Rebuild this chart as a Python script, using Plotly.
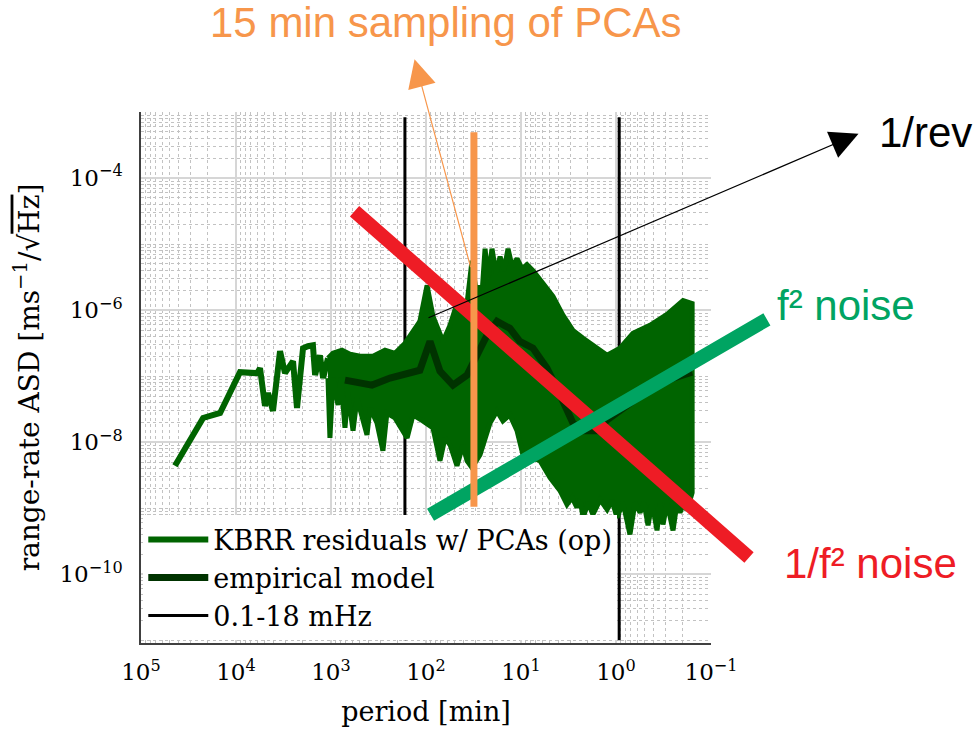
import numpy as np
import plotly.graph_objects as go

# ---------------- data (period in minutes, ASD in m s^-1 / sqrt(Hz)) ----------------
# KBRR residuals w/ PCAs (op): sparse low-frequency part
kbrr_period = [43900, 22200, 14700, 9080, 6010, 5590, 4950, 4600, 4080, 3440, 3050,
               2510, 2280, 2120, 1970, 1750, 1550, 1470, 1310, 1210, 1076]
kbrr_asd = [4.41e-9, 2.33e-8, 2.77e-8, 1.15e-7, 1.11e-7, 1.32e-7, 3.54e-8, 5.56e-8, 2.97e-8,
            2.39e-7, 1.11e-7, 1.69e-7, 3.30e-8, 1.19e-7, 2.65e-7, 2.84e-7, 2.94e-7, 1.04e-7,
            2.07e-7, 9.35e-8, 1.87e-7]

# dense high-frequency part: upper envelope (long -> short period)
upper_period = [1076, 953, 766, 631, 495, 361, 270, 212, 166, 147, 116, 97.5, 84.4, 66.2,
                55.8, 47.2, 37.0, 32.8, 29.0, 27.0, 25.7, 23.9, 22.2, 20.2, 18.3, 16.6, 15.1,
                13.7, 12.4, 11.0, 9.75, 8.65, 7.48, 5.86, 4.61, 3.61, 2.84, 2.22, 1.75, 1.24,
                0.908, 0.663, 0.439, 0.290, 0.197, 0.158]
upper_asd = [1.87e-7, 2.22e-7, 2.47e-7, 2.15e-7, 2.00e-7, 2.00e-7, 2.47e-7, 2.22e-7, 3.15e-7,
             4.16e-7, 6.76e-7, 2.36e-6, 8.04e-7, 3.37e-7, 5.88e-7, 1.26e-6, 1.26e-6, 5.61e-6,
             1.50e-6, 2.36e-6, 1.79e-6, 8.51e-6, 3.01e-6, 8.51e-6, 3.57e-6, 6.45e-6, 3.97e-6,
             8.51e-6, 4.56e-6, 6.01e-6, 4.25e-6, 4.89e-6, 3.97e-6, 2.52e-6, 1.61e-6, 8.32e-7,
             4.94e-7, 3.74e-7, 2.94e-7, 2.07e-7, 2.65e-7, 4.46e-7, 5.88e-7, 8.61e-7, 1.40e-6,
             1.26e-6]
# dense high-frequency part: lower envelope with downward spikes (long -> short period)
lower_period = [1076, 1026, 953, 844, 785, 713, 663, 586, 532, 495, 418, 388, 328, 284, 258,
                212, 188, 158, 137, 108, 84.4, 71.3, 63.1, 55.8, 47.2, 40.8, 37.0, 32.8, 27.0,
                21.2, 17.9, 15.5, 13.1, 11.0, 9.53, 7.48, 6.31, 4.95, 3.88, 3.28, 2.90, 2.58,
                2.39, 2.22, 1.97, 1.75, 1.47, 1.24, 1.10, 0.976, 0.844, 0.713, 0.631, 0.558,
                0.507, 0.460, 0.418, 0.370, 0.344, 0.320, 0.290, 0.251, 0.228, 0.212, 0.192,
                0.179, 0.158]
lower_asd = [9.35e-8, 1.16e-8, 9.35e-8, 3.66e-8, 9.35e-8, 1.65e-8, 5.56e-8, 1.49e-8, 4.67e-8,
             3.30e-8, 1.29e-8, 3.30e-8, 1.96e-8, 7.42e-9, 2.77e-8, 2.33e-8, 1.83e-8, 1.16e-8,
             2.59e-8, 2.10e-8, 1.65e-8, 5.25e-9, 1.16e-8, 9.14e-9, 4.41e-9, 9.14e-9, 5.25e-9,
             4.11e-9, 6.46e-9, 1.96e-8, 2.97e-8, 2.10e-8, 2.59e-8, 1.49e-8, 6.46e-9, 5.82e-9,
             5.25e-9, 2.91e-9, 1.85e-9, 1.14e-9, 1.45e-9, 1.03e-9, 1.35e-9, 7.26e-10, 1.22e-9,
             8.05e-10, 1.35e-9, 9.58e-10, 1.31e-9, 7.26e-10, 1.22e-9, 4.02e-10, 1.22e-9,
             8.63e-10, 1.22e-9, 5.50e-10, 1.22e-9, 4.62e-10, 1.22e-9, 5.69e-10, 1.22e-9,
             4.62e-10, 1.22e-9, 8.63e-10, 1.22e-9, 9.25e-10, 1.73e-9]

# empirical model
emp_period = [713, 370, 239, 155, 116, 90.8, 71.3, 52.0, 37.0, 22.8, 17.9, 13.1, 10.3, 7.48,
              5.32, 3.88, 2.84, 2.22, 1.58, 1.24, 0.766, 0.472, 0.251, 0.158]
emp_asd = [8.72e-8, 7.33e-8, 9.35e-8, 1.11e-7, 1.23e-7, 3.37e-7, 1.19e-7, 7.33e-8, 1.04e-7,
           4.16e-7, 6.76e-7, 5.30e-7, 3.37e-7, 2.65e-7, 1.32e-7, 5.18e-8, 1.96e-8, 1.49e-8,
           1.49e-8, 2.18e-8, 3.66e-8, 5.96e-8, 9.35e-8, 1.15e-7]

# 0.1-18 mHz band limits
band_freq_hz = [0.1e-3, 18e-3]
band_line_asd = [1e-11, 8.3e-4]

# overlay lines (period, ASD) endpoints
red_line = [(586, 3.30e-5), (0.0398, 1.80e-10)]        # 1/f^2 noise
green_line = [(92.9, 7.74e-10), (0.0258, 7.24e-7)]     # f^2 noise
rev_arrow = [(97.5, 7.50e-7), (0.0028, 4.7e-4)]        # 1/rev
pca_bar = [(31.3, 1.0e-9), (31.3, 4.93e-4)]           # 15 min sampling (Nyquist period)
pca_arrow = [(33.6, 4.25e-6), (132, 6.3e-3)]

x_tickvals = [1e5, 1e4, 1e3, 1e2, 1e1, 1e0, 1e-1]
x_ticktext = ["10<sup>5</sup>", "10<sup>4</sup>", "10<sup>3</sup>", "10<sup>2</sup>",
              "10<sup>1</sup>", "10<sup>0</sup>", "10<sup>−1</sup>"]
y_tickvals = [1e-4, 1e-6, 1e-8, 1e-10]
y_ticktext = ["10<sup>−4</sup>", "10<sup>−6</sup>", "10<sup>−8</sup>", "10<sup>−10</sup>"]

# ---------------- styling ----------------
SERIF = "DejaVu Serif"
SANS = "Liberation Sans"
C_DATA = "#006400"
C_EMP = "#003300"
C_RED = "#EE1C25"
C_GREEN = "#00A462"
C_ORANGE = "#F7964B"

fig = go.Figure()

band_periods = [1.0 / f / 60.0 for f in band_freq_hz]
fig.add_trace(go.Scatter(
    x=[band_periods[0], band_periods[0], None, band_periods[1], band_periods[1]],
    y=[band_line_asd[0], band_line_asd[1], None, band_line_asd[0], band_line_asd[1]],
    mode="lines", line=dict(color="black", width=3), name="0.1-18 mHz", legendrank=3))

fig.add_trace(go.Scatter(
    x=kbrr_period, y=kbrr_asd, mode="lines", line=dict(color=C_DATA, width=6),
    name="KBRR residuals w/ PCAs (op)", legendrank=1))

fig.add_trace(go.Scatter(
    x=upper_period + lower_period[::-1], y=upper_asd + lower_asd[::-1],
    mode="lines", fill="toself", fillcolor=C_DATA, line=dict(color=C_DATA, width=5),
    showlegend=False, hoverinfo="skip"))

fig.add_trace(go.Scatter(
    x=emp_period, y=emp_asd, mode="lines", line=dict(color=C_EMP, width=7),
    name="empirical model", legendrank=2))


def seg(p0, p1, color, width, head=0, size=1):
    return dict(x=np.log10(p1[0]), y=np.log10(p1[1]), ax=np.log10(p0[0]), ay=np.log10(p0[1]),
                xref="x", yref="y", axref="x", ayref="y", text="", showarrow=True,
                arrowhead=head, arrowsize=size, arrowwidth=width, arrowcolor=color,
                standoff=0, startstandoff=0)


annotations = [
    seg(red_line[0], red_line[1], C_RED, 14),
    seg(green_line[0], green_line[1], C_GREEN, 14),
    seg(pca_bar[0], pca_bar[1], C_ORANGE, 7),
    seg(rev_arrow[0], rev_arrow[1], "black", 1.2, head=2, size=4.7),
    seg(pca_arrow[0], pca_arrow[1], C_ORANGE, 1.2, head=2, size=4.7),
    dict(x=0.535, y=1.168, xref="paper", yref="paper", text="15 min sampling of PCAs",
         showarrow=False, font=dict(family=SANS, size=42, color=C_ORANGE),
         xanchor="center", yanchor="middle"),
    dict(x=1.292, y=0.962, xref="paper", yref="paper", text="1/rev",
         showarrow=False, font=dict(family=SANS, size=42, color="black"),
         xanchor="left", yanchor="middle"),
    dict(x=1.113, y=0.636, xref="paper", yref="paper", text="f² noise",
         showarrow=False, font=dict(family=SANS, size=42, color=C_GREEN),
         xanchor="left", yanchor="middle"),
    dict(x=1.125, y=0.150, xref="paper", yref="paper", text="1/f² noise",
         showarrow=False, font=dict(family=SANS, size=42, color=C_RED),
         xanchor="left", yanchor="middle"),
]

x_minor = [m * 10.0 ** e for e in range(-1, 5) for m in range(2, 10)]
y_minor = [m * 10.0 ** e for e in range(-11, -3) for m in range(1, 10)
           if not (m == 1 and 10.0 ** e in y_tickvals)]

fig.update_layout(
    width=975, height=734,
    margin=dict(l=141, r=264, t=112, b=89),
    paper_bgcolor="white", plot_bgcolor="white",
    font=dict(family=SERIF, color="black"),
    showlegend=True,
    legend=dict(x=0.004, y=0.005, xanchor="left", yanchor="bottom",
                bgcolor="white", borderwidth=0, font=dict(family=SERIF, size=27),
                tracegroupgap=0, itemwidth=60),
    annotations=annotations,
    xaxis=dict(type="log", range=[5, -1], tickmode="array", tickvals=x_tickvals,
               ticktext=x_ticktext, tickfont=dict(family=SERIF, size=23),
               showgrid=True, gridcolor="#d6d6d6", gridwidth=2,
               minor=dict(tickmode="array", tickvals=x_minor, showgrid=True,
                          gridcolor="#c2c2c2", griddash="dot", gridwidth=1),
               showline=True, linecolor="#404040", linewidth=1.5, zeroline=False,
               ticks="", ticklabelstandoff=8,
               title=dict(text="period [min]", font=dict(family=SERIF, size=27), standoff=18)),
    yaxis=dict(type="log", range=[-11.04, -3], tickmode="array", tickvals=y_tickvals,
               ticktext=y_ticktext, tickfont=dict(family=SERIF, size=23),
               showgrid=True, gridcolor="#d6d6d6", gridwidth=2,
               minor=dict(tickmode="array", tickvals=y_minor, showgrid=True,
                          gridcolor="#c2c2c2", griddash="dot", gridwidth=1),
               showline=True, linecolor="#404040", linewidth=1.5, zeroline=False,
               ticks="", ticklabelstandoff=12,
               title=dict(text='range-rate ASD [ms<sup>−1</sup>/√<span style="text-decoration:overline">Hz</span>]',
                          font=dict(family=SERIF, size=28), standoff=12)),
)

fig.write_html("out.html")
